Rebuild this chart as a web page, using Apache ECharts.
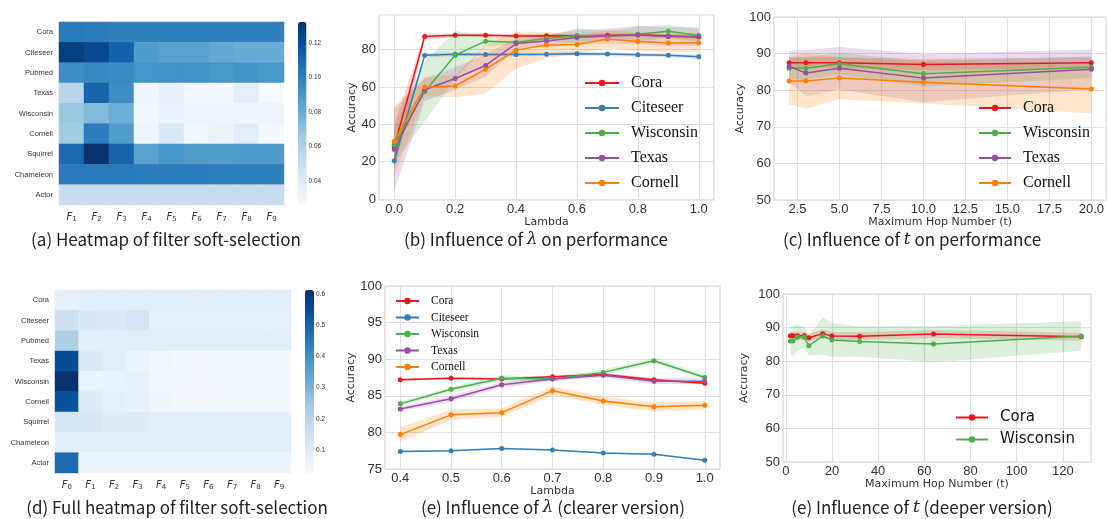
<!DOCTYPE html>
<html>
<head>
<meta charset="utf-8">
<script src="https://cdn.jsdelivr.net/npm/echarts@6.0.0/dist/echarts.min.js"></script>
<style>
  html, body { margin: 0; padding: 0; background: #fff; }
  #main { width: 1107px; height: 519px; }
</style>
</head>
<body>
<div id="main"></div>
<script>
// ---- data ----
const datasets = ['Cora', 'Citeseer', 'Pubmed', 'Texas', 'Wisconsin', 'Cornell', 'Squirrel', 'Chameleon', 'Actor'];
const filtersA = ['F1', 'F2', 'F3', 'F4', 'F5', 'F6', 'F7', 'F8', 'F9'];
const filtersD = ['F0', 'F1', 'F2', 'F3', 'F4', 'F5', 'F6', 'F7', 'F8', 'F9'];

// (a) soft-selection weights, one row per dataset
const heatA = [
  [0.102, 0.101, 0.100, 0.099, 0.099, 0.099, 0.099, 0.099, 0.099],
  [0.126, 0.122, 0.112, 0.088, 0.085, 0.085, 0.082, 0.080, 0.080],
  [0.094, 0.096, 0.095, 0.091, 0.092, 0.092, 0.090, 0.092, 0.090],
  [0.057, 0.111, 0.094, 0.030, 0.035, 0.029, 0.029, 0.037, 0.027],
  [0.067, 0.073, 0.079, 0.029, 0.033, 0.031, 0.031, 0.031, 0.031],
  [0.065, 0.101, 0.087, 0.031, 0.042, 0.029, 0.032, 0.038, 0.028],
  [0.109, 0.131, 0.111, 0.085, 0.091, 0.087, 0.087, 0.088, 0.088],
  [0.102, 0.102, 0.102, 0.101, 0.101, 0.101, 0.100, 0.100, 0.100],
  [0.052, 0.052, 0.052, 0.052, 0.052, 0.052, 0.052, 0.052, 0.052]
];
const scaleA = [0.026, 0.132];
const cbTicksA = [0.04, 0.06, 0.08, 0.10, 0.12];

// (d) full weights incl. F0
const heatD = [
  [0.085, 0.090, 0.090, 0.090, 0.090, 0.090, 0.090, 0.090, 0.090, 0.090],
  [0.150, 0.120, 0.110, 0.130, 0.080, 0.080, 0.080, 0.080, 0.080, 0.080],
  [0.220, 0.090, 0.090, 0.090, 0.090, 0.090, 0.090, 0.090, 0.090, 0.090],
  [0.550, 0.110, 0.090, 0.060, 0.045, 0.035, 0.035, 0.040, 0.035, 0.035],
  [0.610, 0.060, 0.065, 0.070, 0.045, 0.040, 0.040, 0.040, 0.040, 0.040],
  [0.540, 0.100, 0.080, 0.070, 0.050, 0.035, 0.035, 0.040, 0.040, 0.040],
  [0.120, 0.120, 0.100, 0.100, 0.090, 0.090, 0.090, 0.090, 0.090, 0.090],
  [0.090, 0.090, 0.090, 0.090, 0.090, 0.090, 0.090, 0.090, 0.090, 0.090],
  [0.480, 0.055, 0.055, 0.055, 0.055, 0.055, 0.055, 0.055, 0.055, 0.055]
];
const scaleD = [0.026, 0.613];
const cbTicksD = [0.1, 0.2, 0.3, 0.4, 0.5, 0.6];

// (b)/(e) accuracy vs lambda
const lambdas = [0.0, 0.1, 0.2, 0.3, 0.4, 0.5, 0.6, 0.7, 0.8, 0.9, 1.0];
const lamCora      = [28.0, 87.0, 87.6, 87.6, 87.2, 87.4, 87.3, 87.6, 87.9, 87.2, 86.7];
const lamCiteseer  = [20.5, 77.0, 77.5, 77.4, 77.4, 77.5, 77.8, 77.6, 77.2, 77.0, 76.2];
const lamWisconsin = [29.0, 57.5, 77.0, 84.5, 83.9, 85.9, 87.4, 87.3, 88.2, 89.8, 87.5];
const lamTexas     = [26.5, 58.5, 64.5, 71.5, 83.2, 84.6, 86.5, 87.3, 87.8, 87.0, 87.0];
const lamCornell   = [31.0, 60.0, 60.5, 69.5, 79.7, 82.4, 82.7, 85.7, 84.3, 83.5, 83.7];
// band half-widths in (b)
const bandBCora      = [12, 1.5, 1.0, 1.0, 1.0, 1.0, 1.0, 1.0, 1.0, 1.0, 1.0];
const bandBCiteseer  = [4, 1.2, 1.0, 1.0, 1.0, 1.0, 1.0, 1.0, 1.0, 1.0, 1.2];
const bandBWisconsin = [10, 16, 13, 3, 1.0, 1.5, 4, 2.5, 4, 3.5, 3.5];
const bandBTexas     = [22, 6, 6, 6, 3, 3, 4, 4, 5, 5, 5];
const bandBCornell   = [19, 5, 6, 13, 10, 7, 5, 5, 5, 5, 5];
// (e) zoom: lambda 0.4 .. 1.0, band half-widths
const lambdasE = [0.4, 0.5, 0.6, 0.7, 0.8, 0.9, 1.0];
const bandECora      = [0.15, 0.15, 0.15, 0.15, 0.2, 0.15, 0.15];
const bandECiteseer  = [0.1, 0.1, 0.1, 0.1, 0.1, 0.1, 0.12];
const bandEWisconsin = [0.3, 0.3, 0.4, 0.3, 0.35, 0.35, 0.3];
const bandETexas     = [0.3, 0.4, 0.4, 0.3, 0.3, 0.4, 0.4];
const bandECornell   = [1.0, 0.7, 0.6, 0.6, 0.6, 0.6, 0.6];

// (c) accuracy vs max hop
const hops = [2, 3, 5, 10, 20];
const hopCora      = [87.5, 87.5, 87.5, 87.0, 87.5];
const hopWisconsin = [86.0, 86.0, 87.2, 84.5, 86.3];
const hopTexas     = [86.5, 84.7, 86.0, 83.3, 85.7];
const hopCornell   = [82.5, 82.5, 83.3, 82.2, 80.3];
const bandHopCora      = [1.5, 1.5, 1.5, 1.5, 1.5];
const bandHopWisconsin = [3.0, 3.0, 3.0, 3.5, 3.0];
const bandHopTexas     = [4.2, 6.3, 5.8, 6.6, 5.4];
const bandHopCornell   = [6.4, 7.6, 5.8, 5.8, 6.7];

// (f) deeper hops
const deepHops = [2, 3, 5, 8, 10, 16, 20, 32, 64, 128];
const deepCora      = [87.6, 87.6, 87.6, 87.6, 87.0, 88.2, 87.5, 87.4, 88.1, 87.3];
const deepWisconsin = [86.0, 86.0, 87.1, 87.1, 84.6, 87.5, 86.3, 85.9, 85.1, 87.5];
const bandDeepCora      = [1.2, 1.2, 1.2, 1.2, 1.2, 1.2, 1.2, 1.2, 1.2, 1.2];
const bandDeepWisconsin = [4.0, 4.6, 3.9, 3.2, 2.8, 5.5, 5.0, 4.5, 5.4, 4.4];

// ---- styling ----
const COLORS = { Cora: '#e41a1c', Citeseer: '#377eb8', Wisconsin: '#4daf4a', Texas: '#984ea3', Cornell: '#ff7f00' };
const BLUES = ['#f7fbff', '#deebf7', '#c6dbef', '#9ecae1', '#6baed6', '#4292c6', '#2171b5', '#08519c', '#08306b'];
const TICK_FONT = 'Liberation Sans';
const NAME_FONT = 'DejaVu Sans';

const grid = [], xAxis = [], yAxis = [], series = [], legend = [], visualMap = [], graphic = [];

function rgba(hex, a) {
  const n = parseInt(hex.slice(1), 16);
  return `rgba(${n >> 16},${(n >> 8) & 255},${n & 255},${a})`;
}

function addHeatmap(rect, cols, rows, values, scale, cbRect, cbTicks, cbDigits) {
  const gi = grid.length;
  grid.push({ left: rect[0], top: rect[1], width: rect[2], height: rect[3] });
  xAxis.push({
    gridIndex: gi, type: 'category', data: cols,
    axisLine: { show: false }, axisTick: { show: false }, splitLine: { show: false },
    axisLabel: {
      interval: 0, margin: 6, color: '#333',
      formatter: v => `{i|F}{s|${v.slice(1)}}`,
      rich: {
        i: { fontFamily: 'DejaVu Sans', fontStyle: 'italic', fontSize: 10, color: '#333' },
        s: { fontFamily: 'DejaVu Sans', fontSize: 7, color: '#333', padding: [5, 0, 0, 0] }
      }
    }
  });
  yAxis.push({
    gridIndex: gi, type: 'category', data: rows, inverse: true,
    axisLine: { show: false }, axisTick: { show: false }, splitLine: { show: false },
    axisLabel: { interval: 0, fontFamily: TICK_FONT, fontSize: 7.5, color: '#333', margin: 6 }
  });
  const data = [];
  values.forEach((row, r) => row.forEach((v, c) => data.push([c, r, v])));
  const si = series.length;
  series.push({ type: 'heatmap', xAxisIndex: gi, yAxisIndex: gi, data, itemStyle: { borderWidth: 0 }, silent: true });
  visualMap.push({
    type: 'continuous', seriesIndex: si, dimension: 2, min: scale[0], max: scale[1],
    left: cbRect[0], top: cbRect[1], itemWidth: cbRect[2], itemHeight: cbRect[3],
    padding: 0, calculable: false, hoverLink: false, inRange: { color: BLUES }
  });
  // colorbar tick axis
  const cg = grid.length;
  grid.push({ left: cbRect[0], top: cbRect[1], width: cbRect[2], height: cbRect[3] });
  xAxis.push({ gridIndex: cg, type: 'value', show: false, min: 0, max: 1 });
  yAxis.push({
    gridIndex: cg, type: 'value', position: 'right', min: scale[0], max: scale[1],
    axisLine: { show: false }, splitLine: { show: false },
    axisTick: { show: true, length: 3, lineStyle: { color: '#333', width: 0.8 }, customValues: cbTicks },
    axisLabel: { customValues: cbTicks, fontFamily: TICK_FONT, fontSize: 6.5, color: '#333', margin: 2,
      formatter: v => v.toFixed(cbDigits) }
  });
}

function addLinePanel(rect, xr, xticks, xdigits, yr, yticks, xname, xgap, ygap) {
  const gi = grid.length;
  grid.push({ left: rect[0], top: rect[1], width: rect[2], height: rect[3],
    show: true, borderColor: '#d6d6d6', borderWidth: 1.2, backgroundColor: '#fff' });
  const split = { show: true, lineStyle: { color: '#dedede', width: 1.2 } };
  xAxis.push({
    gridIndex: gi, type: 'value', min: xr[0], max: xr[1],
    name: xname, nameLocation: 'middle', nameGap: xgap,
    nameTextStyle: { fontFamily: NAME_FONT, fontSize: 11, color: '#333' },
    axisLine: { show: false }, splitLine: split,
    axisTick: { show: false, customValues: xticks },
    axisLabel: { customValues: xticks, fontFamily: TICK_FONT, fontSize: 13, color: '#333', margin: 3,
      formatter: v => v.toFixed(xdigits) }
  });
  yAxis.push({
    gridIndex: gi, type: 'value', min: yr[0], max: yr[1],
    name: 'Accuracy', nameLocation: 'middle', nameGap: ygap,
    nameTextStyle: { fontFamily: NAME_FONT, fontSize: 11, color: '#333' },
    axisLine: { show: false }, splitLine: split,
    axisTick: { show: false, customValues: yticks },
    axisLabel: { customValues: yticks, fontFamily: TICK_FONT, fontSize: 13, color: '#333', margin: 3 }
  });
  return gi;
}

function addBand(gi, xs, mean, half, color) {
  const pts = xs.map((x, i) => [x, mean[i] - half[i], mean[i] + half[i]]);
  series.push({
    type: 'custom', xAxisIndex: gi, yAxisIndex: gi, silent: true, z: 1,
    data: pts, encode: { x: 0, y: [1, 2] },
    renderItem: (params, api) => {
      if (params.dataIndex !== 0) return;
      const top = pts.map(p => api.coord([p[0], p[2]]));
      const bot = pts.map(p => api.coord([p[0], p[1]])).reverse();
      return { type: 'polygon', shape: { points: top.concat(bot) }, style: { fill: rgba(color, 0.2) } };
    }
  });
}

function addLine(gi, name, xs, ys) {
  const color = COLORS[name];
  series.push({
    type: 'line', name, xAxisIndex: gi, yAxisIndex: gi, z: 3,
    data: xs.map((x, i) => [x, ys[i]]),
    symbol: 'circle', symbolSize: 5, showSymbol: true,
    lineStyle: { width: 1.5, color }, itemStyle: { color }
  });
}

function addLegend(names, left, top, font, fontSize, gap, iconW) {
  legend.push({
    data: names, left, top, orient: 'vertical', itemGap: gap, itemWidth: iconW, itemHeight: 8,
    selectedMode: false, padding: 0,
    textStyle: { fontFamily: font, fontSize, color: '#111', padding: [0, 0, 0, 7] }
  });
}

function caption(x, y, text, rich) {
  graphic.push({
    type: 'text', x, y, silent: true,
    style: { text, align: 'center', verticalAlign: 'middle', fill: '#222',
      font: '17px "Noto Sans CJK SC"', rich }
  });
}

// ---- panels ----
addHeatmap([59, 22, 225, 183], filtersA, datasets, heatA, scaleA, [298, 22, 8.5, 183], cbTicksA, 2);
addHeatmap([55, 290, 236, 183], filtersD, datasets, heatD, scaleD, [305, 290, 9, 183], cbTicksD, 1);

const gB = addLinePanel([379, 15, 335, 185], [-0.05, 1.05], [0, 0.2, 0.4, 0.6, 0.8, 1.0], 1,
  [-0.5, 98.5], [0, 20, 40, 60, 80], 'Lambda', 12, 18);
addBand(gB, lambdas, lamCora, bandBCora, COLORS.Cora);
addBand(gB, lambdas, lamCiteseer, bandBCiteseer, COLORS.Citeseer);
addBand(gB, lambdas, lamWisconsin, bandBWisconsin, COLORS.Wisconsin);
addBand(gB, lambdas, lamTexas, bandBTexas, COLORS.Texas);
addBand(gB, lambdas, lamCornell, bandBCornell, COLORS.Cornell);
addLine(gB, 'Cora', lambdas, lamCora);
addLine(gB, 'Citeseer', lambdas, lamCiteseer);
addLine(gB, 'Wisconsin', lambdas, lamWisconsin);
addLine(gB, 'Texas', lambdas, lamTexas);
addLine(gB, 'Cornell', lambdas, lamCornell);

const gC = addLinePanel([774, 17, 333, 183], [1.1, 20.9], [2.5, 5, 7.5, 10, 12.5, 15, 17.5, 20], 1,
  [50, 100], [50, 60, 70, 80, 90, 100], 'Maximum Hop Number (t)', 13, 25);
addBand(gC, hops, hopCora, bandHopCora, COLORS.Cora);
addBand(gC, hops, hopWisconsin, bandHopWisconsin, COLORS.Wisconsin);
addBand(gC, hops, hopTexas, bandHopTexas, COLORS.Texas);
addBand(gC, hops, hopCornell, bandHopCornell, COLORS.Cornell);
addLine(gC, 'Cora', hops, hopCora);
addLine(gC, 'Wisconsin', hops, hopWisconsin);
addLine(gC, 'Texas', hops, hopTexas);
addLine(gC, 'Cornell', hops, hopCornell);

const cut = a => a.slice(4);
const gE = addLinePanel([385, 286, 335, 183], [0.37, 1.03], lambdasE, 1,
  [75, 100], [75, 80, 85, 90, 95, 100], 'Lambda', 12, 24);
addBand(gE, lambdasE, cut(lamCora), bandECora, COLORS.Cora);
addBand(gE, lambdasE, cut(lamCiteseer), bandECiteseer, COLORS.Citeseer);
addBand(gE, lambdasE, cut(lamWisconsin), bandEWisconsin, COLORS.Wisconsin);
addBand(gE, lambdasE, cut(lamTexas), bandETexas, COLORS.Texas);
addBand(gE, lambdasE, cut(lamCornell), bandECornell, COLORS.Cornell);
addLine(gE, 'Cora', lambdasE, cut(lamCora));
addLine(gE, 'Citeseer', lambdasE, cut(lamCiteseer));
addLine(gE, 'Wisconsin', lambdasE, cut(lamWisconsin));
addLine(gE, 'Texas', lambdasE, cut(lamTexas));
addLine(gE, 'Cornell', lambdasE, cut(lamCornell));

const gF = addLinePanel([783, 294, 308, 168], [-1.2, 132.2], [0, 20, 40, 60, 80, 100, 120], 0,
  [50, 100], [50, 60, 70, 80, 90, 100], 'Maximum Hop Number (t)', 12, 33);
addBand(gF, deepHops, deepCora, bandDeepCora, COLORS.Cora);
addBand(gF, deepHops, deepWisconsin, bandDeepWisconsin, COLORS.Wisconsin);
addLine(gF, 'Cora', deepHops, deepCora);
addLine(gF, 'Wisconsin', deepHops, deepWisconsin);

// ---- legends ----
addLegend(['Cora', 'Citeseer', 'Wisconsin', 'Texas', 'Cornell'], 584, 75, 'Liberation Serif', 16, 9, 34);
addLegend(['Cora', 'Wisconsin', 'Texas', 'Cornell'], 978, 100, 'Liberation Serif', 16, 9, 32);
addLegend(['Cora', 'Citeseer', 'Wisconsin', 'Texas', 'Cornell'], 395, 295, 'Liberation Serif', 11.5, 4.5, 23);
addLegend(['Cora', 'Wisconsin'], 955, 410, 'DejaVu Sans', 15, 7, 32);

// ---- captions ----
const ital = { fontFamily: 'DejaVu Serif', fontStyle: 'italic', fontSize: 17, fill: '#222' };
caption(166, 240, '(a) Heatmap of filter soft-selection');
caption(536, 240, '(b) Influence of {m|λ} on performance', { m: ital });
caption(912, 240, '(c) Influence of {m|t} on performance', { m: ital });
caption(177, 508, '(d) Full heatmap of filter soft-selection');
caption(553, 508, '(e) Influence of {m|λ} (clearer version)', { m: ital });
caption(922, 508, '(e) Influence of {m|t} (deeper version)', { m: ital });

const chart = echarts.init(document.getElementById('main'));
chart.setOption({
  animation: false,
  backgroundColor: '#fff',
  grid, xAxis, yAxis, series, legend, visualMap, graphic
});
</script>
</body>
</html>
